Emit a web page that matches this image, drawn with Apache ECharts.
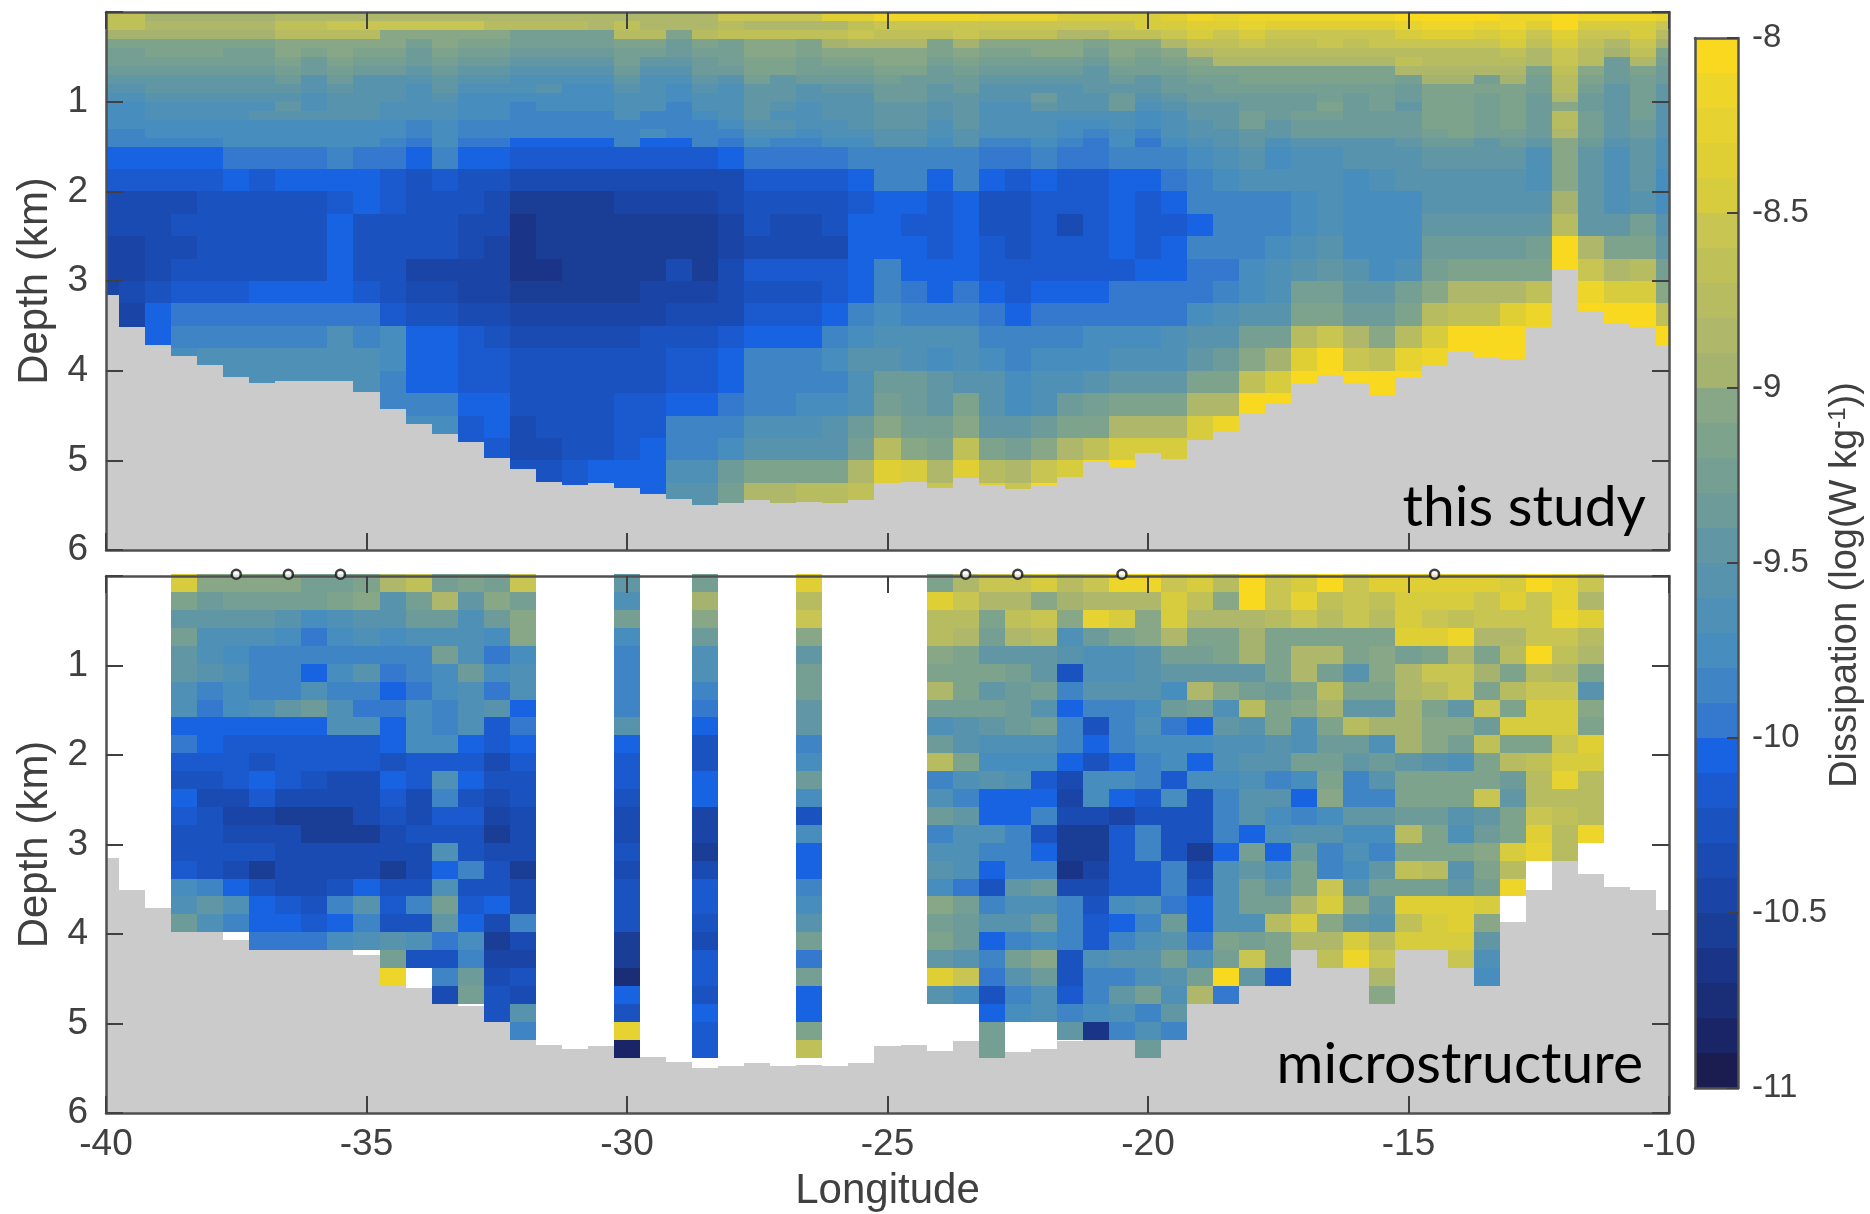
<!DOCTYPE html>
<html><head><meta charset="utf-8">
<script src="https://cdn.jsdelivr.net/npm/echarts@6/dist/echarts.min.js"></script>
<style>html,body{margin:0;background:#fff}#c{width:1870px;height:1214px}</style></head>
<body><div id="c"></div>
<script>
// Values are tenths of the magnitude of log10 dissipation: 96 means the band -9.7..-9.6. 0 = no data.
const bandCodes=[80,81,82,83,84,85,86,87,88,89,90,91,92,93,94,95,96,97,98,99,100,101,102,103,104,105,106,107,108,109];
const bandColors=['#f9d91f','#eed52a','#e6d230','#dfcf35','#d6cc3d','#c8c553','#c0c059','#b8bc60','#afb86a','#a5b36f','#87a786','#7ea38c','#749f92','#6c9b9a','#6197a4','#5893ae','#4f90b6','#478dbe','#3f85c6','#3579cf','#1763e1','#1a59ce','#1a52c0','#1a4bb2','#1a44a5','#1a3d95','#1a3587','#1a2d77','#1a2567','#1b1c50'];
const studyDepthEdges=[0,0.1,0.2,0.3,0.4,0.5,0.6,0.7,0.8,0.9,1,1.1,1.2,1.3,1.4,1.5,1.75,2,2.25,2.5,2.75,3,3.25,3.5,3.75,4,4.25,4.5,4.75,5,5.25,5.5];
const seabedDepth=[3.155,3.51,3.71,3.84,3.94,4.07,4.14,4.11,4.11,4.11,4.24,4.43,4.6,4.71,4.8,4.97,5.1,5.24,5.28,5.25,5.31,5.37,5.43,5.5,5.48,5.44,5.48,5.46,5.48,5.44,5.25,5.24,5.31,5.2,5.28,5.32,5.29,5.19,5.01,5.07,4.92,4.99,4.77,4.68,4.47,4.36,4.15,4.05,4.14,4.27,4.08,3.94,3.79,3.86,3.87,3.51,2.88,3.33,3.47,3.51,3.73];
const studyRows=[
[86,86,89,89,89,89,89,88,88,88,88,88,88,88,88,88,88,88,88,88,88,88,88,88,85,85,85,85,83,83,81,81,81,81,82,82,82,84,84,84,84,83,81,82,81,81,81,81,81,81,80,80,80,80,81,81,80,81,81,81,82],
[86,86,88,88,88,88,88,86,86,85,85,85,85,85,85,87,87,87,87,88,86,88,88,88,87,88,88,88,88,86,85,85,85,85,85,85,85,85,85,85,84,84,83,83,82,83,83,83,83,83,82,81,81,82,81,83,80,84,84,84,85],
[89,89,89,89,89,89,89,87,87,87,87,90,90,90,90,90,92,92,92,92,87,87,91,87,86,86,86,86,86,85,86,86,86,85,86,86,86,88,88,86,86,85,84,85,84,85,85,85,85,85,84,83,83,84,83,85,83,85,85,84,87],
[91,91,91,91,91,91,91,90,90,90,90,90,92,90,91,91,92,92,92,92,91,91,93,91,92,90,90,91,89,88,88,88,91,89,90,90,90,90,91,90,90,88,86,86,85,86,86,85,86,85,85,85,85,85,84,86,84,86,88,85,89],
[92,92,91,91,91,92,92,90,91,90,91,91,93,91,92,92,93,93,93,93,92,92,93,92,92,90,90,91,90,90,90,90,91,90,91,91,90,90,92,90,91,90,88,87,87,87,87,87,87,87,87,87,87,87,86,88,85,87,89,86,91],
[92,92,92,92,92,92,92,91,93,91,92,92,93,92,93,93,94,94,94,94,92,94,94,93,92,91,91,92,91,91,90,90,92,91,92,92,92,92,93,91,92,91,90,88,88,88,88,88,88,88,86,87,87,87,87,88,85,87,93,88,92],
[93,93,93,93,93,93,93,92,93,92,93,93,94,93,94,94,95,95,95,95,93,95,95,93,93,91,91,92,92,92,91,91,93,92,93,93,93,93,94,92,92,92,91,91,91,91,91,91,91,91,88,88,88,88,88,91,86,90,93,91,93],
[94,94,94,94,94,94,94,93,95,93,95,95,95,94,95,95,96,96,96,96,94,96,96,94,95,92,94,93,93,93,92,93,93,93,94,94,94,94,94,93,94,93,92,92,91,91,91,91,91,91,92,89,89,92,89,92,87,91,93,92,93],
[95,95,94,94,94,94,94,94,95,94,95,95,96,94,96,96,96,95,97,97,95,96,97,95,96,94,94,95,94,94,93,93,94,93,95,95,95,95,94,94,94,93,93,92,92,92,92,92,92,92,93,91,91,91,91,92,87,92,94,92,94],
[96,96,95,95,95,95,95,95,96,95,95,95,96,95,97,97,97,97,97,97,96,96,97,96,96,94,94,95,95,95,93,93,94,94,95,95,93,95,95,93,95,94,93,93,93,93,93,92,93,92,93,91,91,92,91,93,88,93,94,92,94],
[97,97,96,96,96,96,96,94,96,95,95,96,96,96,97,97,98,97,97,97,96,96,98,96,96,94,95,96,95,95,94,94,95,94,96,96,94,95,95,93,96,95,94,94,93,93,93,91,93,92,94,91,91,92,91,93,90,93,94,92,95],
[97,97,96,96,96,96,95,95,95,95,95,96,96,96,97,97,98,98,98,98,96,98,98,97,96,94,96,96,95,95,94,94,95,94,96,96,96,96,96,96,97,96,94,94,92,93,92,92,93,93,93,91,91,92,91,93,87,92,94,92,95],
[97,97,97,97,97,97,97,97,97,97,97,97,98,97,98,98,98,98,98,98,98,98,98,98,97,95,95,96,96,95,94,94,96,94,96,96,96,97,97,96,97,96,95,94,92,94,93,93,93,93,93,91,91,92,91,93,87,92,94,93,95],
[98,98,97,97,97,97,97,97,97,97,97,97,98,97,98,98,98,98,98,98,98,97,98,98,98,96,96,97,96,96,95,95,96,95,96,96,96,97,98,97,98,96,95,95,94,94,93,93,93,93,93,92,91,92,92,93,88,92,94,93,95],
[98,98,98,98,98,97,97,97,97,97,97,98,99,97,99,99,100,100,100,100,98,100,100,98,99,97,98,98,97,97,95,95,97,95,98,98,97,98,99,97,99,97,96,95,94,96,95,95,95,95,94,93,93,94,93,94,90,93,95,94,96],
[100,100,100,100,100,99,99,99,99,98,99,99,100,98,100,100,101,101,101,101,101,101,101,101,100,99,99,99,99,98,98,98,98,98,99,99,98,99,99,98,98,98,97,96,95,97,96,96,95,95,95,94,94,94,94,96,90,94,96,94,96],
[101,101,101,101,101,100,101,100,100,100,100,101,102,101,102,102,103,103,103,103,103,103,103,103,103,101,101,101,101,100,98,98,100,98,100,101,100,101,101,100,100,99,98,97,96,96,96,96,97,96,95,95,95,95,95,96,90,94,96,94,97],
[103,103,103,103,102,102,102,102,102,101,100,101,102,102,102,103,105,105,105,105,104,104,104,104,103,102,102,102,102,101,100,100,101,100,102,102,101,101,101,100,101,100,98,98,98,98,97,96,97,97,97,95,95,95,95,95,89,94,96,95,97],
[103,103,103,102,102,102,102,102,102,100,102,102,102,102,103,103,106,105,105,105,105,105,105,105,104,102,103,103,102,100,100,101,101,100,102,102,101,103,101,100,101,101,100,98,98,98,97,96,97,97,97,94,94,94,94,94,87,94,94,92,95],
[104,104,103,103,102,102,102,102,102,100,102,102,102,102,103,104,106,105,105,105,105,105,105,105,104,103,103,103,103,100,100,100,101,100,101,102,101,101,101,100,101,100,98,98,98,97,96,95,97,97,97,93,93,93,93,92,80,88,91,91,94],
[104,104,103,102,102,102,102,102,102,100,102,102,104,104,104,104,106,106,105,105,105,105,103,105,103,101,101,101,101,100,98,100,100,100,101,101,101,101,101,101,100,100,99,99,97,96,95,94,95,97,96,92,91,91,91,91,80,85,88,87,92],
[104,103,102,101,101,101,100,100,100,100,101,102,103,103,104,104,105,105,105,105,105,104,104,104,103,102,102,102,101,100,98,99,100,99,100,101,100,100,100,99,99,99,99,98,97,96,92,92,94,94,92,90,88,88,88,86,0,81,84,84,90],
[0,104,100,99,99,99,99,99,99,99,99,101,102,102,103,103,104,104,104,104,104,104,103,103,103,101,101,101,100,98,97,98,98,98,99,100,99,99,99,99,99,99,97,96,95,95,91,91,93,93,91,87,86,86,83,81,0,80,80,80,86],
[0,104,100,98,98,98,98,98,98,96,98,97,100,100,101,102,103,103,103,103,103,102,102,102,101,100,100,100,98,97,96,96,96,96,98,98,98,98,97,97,97,96,95,95,92,92,87,85,88,90,87,84,80,80,80,81,0,0,0,80,80],
[0,0,0,97,96,96,96,96,96,96,96,97,100,100,101,101,102,102,102,102,102,102,101,101,100,98,98,98,97,95,95,96,97,96,97,98,97,97,97,96,96,96,94,93,90,89,83,80,85,86,82,81,80,80,80,0,0,0,0,0,0],
[0,0,0,0,0,96,96,96,96,96,96,98,100,100,101,101,102,102,102,102,102,102,101,101,100,98,98,98,98,96,93,93,94,95,95,97,96,96,95,94,94,94,91,91,86,84,80,80,80,80,80,0,0,0,0,0,0,0,0,0,0],
[0,0,0,0,0,0,0,0,0,0,0,98,98,98,100,100,102,102,102,102,101,101,100,100,99,98,98,97,97,96,92,93,94,91,95,97,96,93,92,91,91,91,88,88,80,80,0,0,0,80,0,0,0,0,0,0,0,0,0,0,0],
[0,0,0,0,0,0,0,0,0,0,0,0,97,97,101,100,103,102,102,102,101,101,98,98,98,96,96,96,95,93,90,92,92,90,94,94,93,91,91,88,88,88,84,81,0,0,0,0,0,0,0,0,0,0,0,0,0,0,0,0,0],
[0,0,0,0,0,0,0,0,0,0,0,0,0,0,101,101,103,103,102,102,101,100,98,98,97,95,95,95,95,92,87,90,91,86,91,92,90,88,86,84,84,84,84,0,0,0,0,0,0,0,0,0,0,0,0,0,0,0,0,0,0],
[0,0,0,0,0,0,0,0,0,0,0,0,0,0,0,0,102,102,101,100,100,100,96,96,93,91,91,91,91,88,83,84,88,83,87,88,85,84,80,80,0,0,0,0,0,0,0,0,0,0,0,0,0,0,0,0,0,0,0,0,0],
[0,0,0,0,0,0,0,0,0,0,0,0,0,0,0,0,0,0,101,0,100,100,95,95,92,88,88,87,87,86,0,0,85,0,83,85,80,0,0,0,0,0,0,0,0,0,0,0,0,0,0,0,0,0,0,0,0,0,0,0,0]
];
const microLongitudes=[-38.5,-38,-37.5,-37,-36.5,-36,-35.5,-35,-34.5,-34,-33.5,-33,-32.5,-32,-30,-28.5,-26.5,-24,-23.5,-23,-22.5,-22,-21.5,-21,-20.5,-20,-19.5,-19,-18.5,-18,-17.5,-17,-16.5,-16,-15.5,-15,-14.5,-14,-13.5,-13,-12.5,-12,-11.5];
const microRows=[
[84,90,90,90,90,92,92,91,88,86,92,91,92,85,94,92,83,91,88,85,85,84,87,85,81,81,85,84,87,80,85,84,80,85,83,83,83,83,83,84,80,82,85],
[91,93,92,92,92,92,91,90,95,92,88,94,90,92,96,89,87,83,85,88,88,90,89,88,88,88,84,86,90,80,85,82,86,85,86,84,84,84,85,83,85,82,88],
[94,94,94,94,95,97,96,95,95,93,93,96,93,90,92,90,85,87,87,91,86,85,90,82,84,90,84,88,88,88,87,85,87,85,87,84,85,86,85,85,85,81,83],
[92,96,96,96,97,99,97,96,97,96,96,96,97,90,97,93,90,87,88,92,88,87,96,93,91,90,88,91,91,89,91,91,91,91,91,83,83,81,88,88,85,85,87],
[94,96,97,98,98,98,98,98,98,98,92,96,99,97,98,96,94,90,91,94,94,94,95,96,96,95,92,92,91,89,91,88,88,91,90,92,91,88,91,87,80,86,88],
[94,95,96,98,98,100,97,95,99,98,97,93,97,96,98,96,92,91,91,91,92,94,102,96,96,95,94,94,94,94,91,88,92,95,90,88,85,85,89,91,87,88,91],
[96,98,97,98,98,96,98,98,100,99,97,96,99,96,98,98,92,88,91,94,93,92,98,95,95,95,97,88,90,92,93,91,87,91,91,88,87,85,91,87,85,85,95],
[96,99,97,96,94,93,96,99,99,97,98,96,95,100,98,99,94,92,92,92,93,95,100,98,98,97,93,92,96,87,91,90,89,94,94,89,91,94,85,91,84,84,90],
[100,100,100,100,100,100,96,96,100,97,98,96,101,99,95,100,94,96,95,94,93,92,98,102,98,96,99,100,94,95,91,96,91,87,89,89,90,90,93,84,84,84,91],
[99,100,101,101,101,101,101,101,100,97,97,100,101,100,100,102,98,93,95,96,96,96,98,100,98,97,97,97,96,96,95,96,93,93,96,89,90,92,86,91,91,85,83],
[101,101,101,102,101,101,101,101,102,101,101,101,103,101,101,102,97,87,91,97,97,97,100,102,100,98,97,100,96,95,95,92,92,94,93,94,95,96,91,87,86,84,84],
[102,102,101,100,101,102,103,103,100,101,96,100,102,102,101,100,93,98,96,95,96,101,103,97,97,98,101,97,97,96,98,97,91,98,95,91,91,91,91,93,87,82,87],
[100,103,103,101,103,103,103,103,101,103,98,102,103,102,102,100,97,96,98,100,100,100,104,97,100,101,97,102,98,95,95,100,90,98,98,91,91,91,85,94,87,87,87],
[101,102,104,104,105,105,105,103,102,103,101,101,104,103,103,104,102,93,94,100,100,98,103,103,104,102,102,102,98,95,97,98,97,94,94,93,93,95,94,91,85,86,87],
[102,102,103,103,103,105,105,105,103,102,102,102,105,103,103,104,97,98,96,96,98,102,105,105,101,98,102,102,98,100,96,95,95,97,97,87,91,96,93,91,83,87,81],
[102,102,102,102,103,103,103,103,103,103,96,102,103,103,102,105,100,96,96,98,98,100,105,105,101,98,102,105,100,92,100,93,98,96,98,91,91,91,90,84,82,87,0],
[101,102,103,105,103,103,103,103,105,103,100,98,102,105,103,103,100,95,96,100,98,98,106,104,101,101,98,103,96,94,96,91,98,97,94,86,87,95,91,87,0,0,0],
[97,98,100,102,103,103,102,100,102,102,96,102,102,103,102,101,98,97,99,102,94,93,103,103,101,101,98,102,96,92,94,91,85,95,92,92,92,94,92,81,0,0,0],
[96,94,96,100,101,102,98,95,101,98,92,101,100,103,102,101,97,90,92,98,96,96,98,102,97,96,99,100,96,92,92,88,84,90,94,83,83,83,84,0,0,0,0],
[93,96,98,100,100,101,100,98,102,102,94,100,103,98,102,102,95,92,93,95,95,93,98,101,100,98,93,100,96,96,87,84,90,94,95,86,84,83,90,0,0,0,0],
[0,0,0,99,99,99,97,96,95,96,99,97,105,103,105,103,92,91,93,100,98,97,98,101,98,96,95,99,91,92,91,88,88,84,87,84,84,84,94,0,0,0,0],
[0,0,0,0,0,0,0,0,92,102,102,98,104,104,105,101,99,94,95,98,92,90,102,96,95,95,92,96,92,85,91,0,86,81,85,0,0,85,96,0,0,0,0],
[0,0,0,0,0,0,0,0,81,0,98,93,103,102,107,101,92,83,85,99,95,93,102,98,98,96,95,92,80,94,101,0,0,0,88,0,0,0,97,0,0,0,0],
[0,0,0,0,0,0,0,0,0,0,103,92,102,103,100,102,100,95,97,102,98,96,101,98,94,92,96,88,99,0,0,0,0,0,90,0,0,0,0,0,0,0,0],
[0,0,0,0,0,0,0,0,0,0,0,0,102,95,102,100,100,0,0,100,97,96,98,97,96,98,94,0,0,0,0,0,0,0,0,0,0,0,0,0,0,0,0],
[0,0,0,0,0,0,0,0,0,0,0,0,0,98,82,101,91,0,0,92,0,0,94,106,98,96,98,0,0,0,0,0,0,0,0,0,0,0,0,0,0,0,0],
[0,0,0,0,0,0,0,0,0,0,0,0,0,0,108,101,86,0,0,92,0,0,0,0,0,93,0,0,0,0,0,0,0,0,0,0,0,0,0,0,0]
];
const stationLongitudes=[-37.5,-36.5,-35.5,-23.5,-22.5,-20.5,-14.5];
const lonTicks={min:-40,max:-10,interval:5};
const depthTicks={min:0,max:6,interval:1};
const barTicks={min:-11,max:-8,interval:0.5};

const toValue=t=>-(t+0.5)/10;
const lonOf=i=>-40+0.5*i;
const studyCells=[];
studyRows.forEach((row,r)=>row.forEach((t,i)=>{if(t)studyCells.push([lonOf(i)-0.25,lonOf(i)+0.25,studyDepthEdges[r],studyDepthEdges[r+1],toValue(t)]);}));
const microCells=[];
microRows.forEach((row,r)=>row.forEach((t,c)=>{if(t)microCells.push([microLongitudes[c]-0.25,microLongitudes[c]+0.25,0.2*r-0.02,0.2*r+0.18,toValue(t)]);}));
const ground=seabedDepth.map((d,i)=>[lonOf(i)-0.25,lonOf(i)+0.25,d,6]);
const barCells=bandCodes.map(t=>[0,1,-t/10,-(t+1)/10,toValue(t)]);

function rectFrom(api,fill){
  const a=api.coord([api.value(0),api.value(2)]),b=api.coord([api.value(1),api.value(3)]);
  const x0=Math.round(Math.min(a[0],b[0])),x1=Math.round(Math.max(a[0],b[0]));
  const y0=Math.round(Math.min(a[1],b[1])),y1=Math.round(Math.max(a[1],b[1]));
  return {type:'rect',shape:{x:x0,y:y0,width:x1-x0,height:y1-y0},style:{fill}};
}
const colored=(p,api)=>rectFrom(api,api.visual('color'));
const grey=(p,api)=>rectFrom(api,'#cbcbcb');
const enc={x:[0,1],y:[2,3]};
const ink='#404040';
const line={show:true,onZero:false,lineStyle:{color:'#505050',width:2.5}};
const tick={show:true,inside:true,length:17,lineStyle:{color:'#404040',width:2}};
function xAx(g,pos,labels,name){return Object.assign({type:'value',gridIndex:g,position:pos,z:10,splitLine:{show:false},axisLine:line,axisTick:tick,
  axisLabel:{show:labels,fontFamily:'Liberation Sans',fontSize:37,color:ink,margin:13},
  name:name||'',nameLocation:'middle',nameGap:57,nameTextStyle:{fontFamily:'Liberation Sans',fontSize:42,color:ink}},lonTicks);}
function yAx(g,pos,labels,name){return Object.assign({type:'value',gridIndex:g,position:pos,inverse:true,z:10,splitLine:{show:false},axisLine:line,axisTick:tick,
  axisLabel:{show:labels,fontFamily:'Liberation Sans',fontSize:37,color:ink,margin:18,formatter:v=>v===0?'':String(v)},
  name:name||'',nameLocation:'middle',nameGap:49,nameRotate:90,nameTextStyle:{fontFamily:'Liberation Sans',fontSize:42,color:ink}},depthTicks);}
const thin={show:true,onZero:false,lineStyle:{color:'#505050',width:2.5}};
const option={
  animation:false,backgroundColor:'#fff',
  grid:[
    {left:106,top:12,width:1563,height:538,show:false,outerBoundsMode:'none'},
    {left:106,top:576,width:1563,height:537,show:false,outerBoundsMode:'none'},
    {left:1695,top:38,width:43,height:1050,show:false,outerBoundsMode:'none'}
  ],
  xAxis:[xAx(0,'bottom',false),xAx(0,'top',false),xAx(1,'bottom',true,'Longitude'),xAx(1,'top',false),
    {type:'value',gridIndex:2,min:0,max:1,position:'bottom',z:10,splitLine:{show:false},axisLine:thin,axisTick:{show:false},axisLabel:{show:false}},
    {type:'value',gridIndex:2,min:0,max:1,position:'top',z:10,splitLine:{show:false},axisLine:thin,axisTick:{show:false},axisLabel:{show:false}}],
  yAxis:[yAx(0,'left',true,'Depth (km)'),yAx(0,'right',false),yAx(1,'left',true,'Depth (km)'),yAx(1,'right',false),
    Object.assign({type:'value',gridIndex:2,position:'right',z:10,splitLine:{show:false},axisLine:thin,
      axisTick:{show:true,inside:true,length:11,lineStyle:{color:'#404040',width:2}},
      axisLabel:{fontFamily:'Liberation Sans',fontSize:33,color:ink,margin:14}},barTicks),
    Object.assign({type:'value',gridIndex:2,position:'left',z:10,splitLine:{show:false},axisLine:thin,axisTick:{show:false},axisLabel:{show:false}},barTicks)],
  visualMap:{show:false,type:'piecewise',dimension:4,seriesIndex:[0,3,5],
    pieces:bandCodes.map((t,i)=>({min:-(t+1)/10,max:-t/10,color:bandColors[i]}))},
  series:[
    {type:'custom',name:'this study',xAxisIndex:0,yAxisIndex:0,coordinateSystem:'cartesian2d',clip:true,z:2,data:studyCells,encode:enc,renderItem:colored,silent:true},
    {type:'custom',name:'seabed top',xAxisIndex:0,yAxisIndex:0,coordinateSystem:'cartesian2d',clip:true,z:3,data:ground,encode:enc,renderItem:grey,silent:true},
    {type:'custom',name:'seabed bottom',xAxisIndex:2,yAxisIndex:2,coordinateSystem:'cartesian2d',clip:true,z:2,data:ground,encode:enc,renderItem:grey,silent:true},
    {type:'custom',name:'microstructure',xAxisIndex:2,yAxisIndex:2,coordinateSystem:'cartesian2d',clip:false,z:3,data:microCells,encode:enc,renderItem:colored,silent:true},
    {type:'scatter',name:'stations',xAxisIndex:2,yAxisIndex:2,clip:false,z:12,symbol:'circle',symbolSize:9,
      itemStyle:{color:'#fff',borderColor:'#111',borderWidth:2.5},data:stationLongitudes.map(x=>[x,-0.02]),silent:true},
    {type:'custom',name:'colorbar',xAxisIndex:4,yAxisIndex:4,coordinateSystem:'cartesian2d',clip:true,z:2,data:barCells,encode:enc,renderItem:colored,silent:true}
  ],
  graphic:[
    {type:'text',z:20,x:1646,y:508,style:{text:'this study',font:'57px Lato',fill:'#000',align:'right',verticalAlign:'middle'}},
    {type:'text',z:20,x:1643,y:1065,style:{text:'microstructure',font:'57px Lato',fill:'#000',align:'right',verticalAlign:'middle'}},
    {type:'text',z:20,x:1846,y:585,rotation:Math.PI/2,style:{text:'Dissipation (log(W kg{s|-1}))',font:'38px "Liberation Sans"',fill:ink,align:'center',verticalAlign:'middle',
      rich:{s:{font:'24px "Liberation Sans"',fill:ink,padding:[0,0,16,0]}}}}
  ]
};
echarts.init(document.getElementById('c'),null,{renderer:'canvas'}).setOption(option);
</script></body></html>
